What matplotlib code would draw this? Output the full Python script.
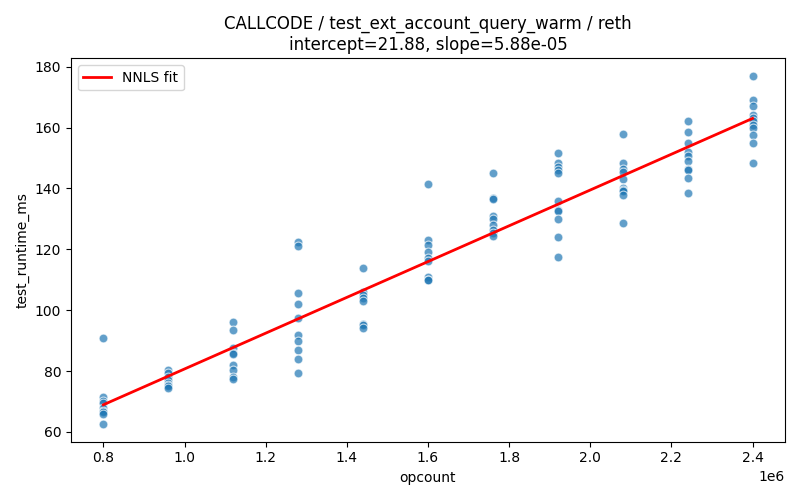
import matplotlib
matplotlib.use("Agg")
import matplotlib.pyplot as plt
import numpy as np

opcounts = [0.8e6, 0.96e6, 1.12e6, 1.28e6, 1.44e6, 1.6e6, 1.76e6, 1.92e6, 2.08e6, 2.24e6, 2.4e6]
runtimes = [
    [91, 71.5, 70, 69.5, 68, 67, 66.5, 66, 62.5],
    [80.5, 79.5, 78, 77, 76, 75.5, 75, 74.5],
    [96, 93.5, 87.5, 86, 85.5, 82, 80.5, 78, 77.5],
    [122.5, 121, 105.5, 102, 97.5, 92, 90, 87, 84, 79.5],
    [114, 106, 105, 104, 103, 95.5, 95, 94],
    [141.5, 123, 121.5, 119, 117, 116, 111, 110, 110],
    [145, 137, 136.5, 131, 130, 128, 126.5, 125.5, 124.5],
    [151.5, 148.5, 147, 146, 145, 136, 133, 132.5, 130, 124, 117.5],
    [158, 148.5, 146.5, 145.5, 143, 140, 139.5, 139, 138, 128.5],
    [162, 158.5, 155, 152, 150.5, 149, 146.5, 146, 143.5, 138.5],
    [177, 169, 167, 164, 163, 162, 161, 160, 157.5, 155, 148.5],
]
intercept = 21.88
slope = 5.88e-05

xs = np.concatenate([[x] * len(r) for x, r in zip(opcounts, runtimes)])
ys = np.concatenate(runtimes)

fig, ax = plt.subplots(figsize=(8, 5), dpi=100)
ax.scatter(xs, ys, s=40, color="#1f77b4", alpha=0.7, edgecolors="white", linewidths=0.8)
xl = np.array([min(opcounts), max(opcounts)])
ax.plot(xl, intercept + slope * xl, color="red", lw=2, label="NNLS fit")
ax.set_xlabel("opcount")
ax.set_ylabel("test_runtime_ms")
ax.set_title(f"CALLCODE / test_ext_account_query_warm / reth\nintercept={intercept:.2f}, slope={slope:.2e}")
ax.legend(loc="upper left")
fig.tight_layout()
fig.savefig("out.png")
